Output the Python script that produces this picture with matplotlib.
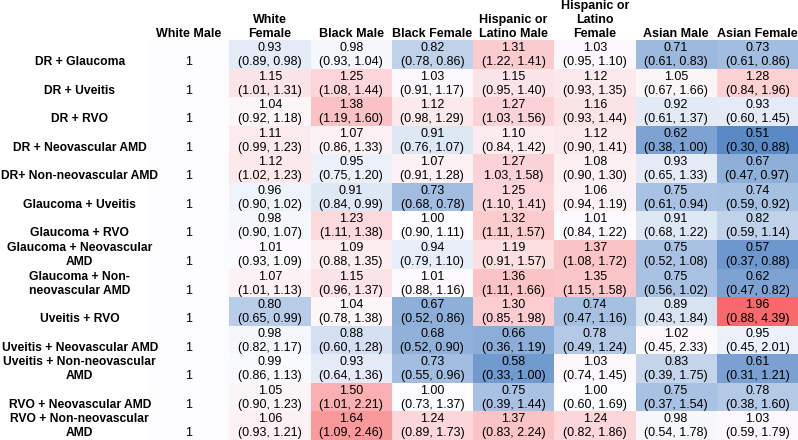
import numpy as np
import matplotlib
matplotlib.use("Agg")
import matplotlib.pyplot as plt
from matplotlib.colors import LinearSegmentedColormap, TwoSlopeNorm

plt.rcParams['font.family'] = ['Liberation Sans', 'DejaVu Sans']

# column headers and row labels
cols = ["White Male", "White\nFemale", "Black Male", "Black Female",
        "Hispanic or\nLatino Male", "Hispanic or\nLatino\nFemale",
        "Asian Male", "Asian Female"]
rows = ["DR + Glaucoma", "DR + Uveitis", "DR + RVO", "DR + Neovascular AMD",
        "DR+ Non-neovascular AMD", "Glaucoma + Uveitis", "Glaucoma + RVO",
        "Glaucoma + Neovascular\nAMD", "Glaucoma + Non-\nneovascular AMD",
        "Uveitis + RVO", "Uveitis + Neovascular AMD",
        "Uveitis + Non-neovascular\nAMD", "RVO + Neovascular AMD",
        "RVO + Non-neovascular\nAMD"]

# odds ratios (White Male = reference, 1)
est = [
    [1, 0.93, 0.98, 0.82, 1.31, 1.03, 0.71, 0.73],
    [1, 1.15, 1.25, 1.03, 1.15, 1.12, 1.05, 1.28],
    [1, 1.04, 1.38, 1.12, 1.27, 1.16, 0.92, 0.93],
    [1, 1.11, 1.07, 0.91, 1.10, 1.12, 0.62, 0.51],
    [1, 1.12, 0.95, 1.07, 1.27, 1.08, 0.93, 0.67],
    [1, 0.96, 0.91, 0.73, 1.25, 1.06, 0.75, 0.74],
    [1, 0.98, 1.23, 1.00, 1.32, 1.01, 0.91, 0.82],
    [1, 1.01, 1.09, 0.94, 1.19, 1.37, 0.75, 0.57],
    [1, 1.07, 1.15, 1.01, 1.36, 1.35, 0.75, 0.62],
    [1, 0.80, 1.04, 0.67, 1.30, 0.74, 0.89, 1.96],
    [1, 0.98, 0.88, 0.68, 0.66, 0.78, 1.02, 0.95],
    [1, 0.99, 0.93, 0.73, 0.58, 1.03, 0.83, 0.61],
    [1, 1.05, 1.50, 1.00, 0.75, 1.00, 0.75, 0.78],
    [1, 1.06, 1.64, 1.24, 1.37, 1.24, 0.98, 1.03],
]

# confidence intervals (as printed, non-reference columns)
ci = [
    ["(0.89, 0.98)", "(0.93, 1.04)", "(0.78, 0.86)", "(1.22, 1.41)", "(0.95, 1.10)", "(0.61, 0.83)", "(0.61, 0.86)"],
    ["(1.01, 1.31)", "(1.08, 1.44)", "(0.91, 1.17)", "(0.95, 1.40)", "(0.93, 1.35)", "(0.67, 1.66)", "(0.84, 1.96)"],
    ["(0.92, 1.18)", "(1.19, 1.60)", "(0.98, 1.29)", "(1.03, 1.56)", "(0.93, 1.44)", "(0.61, 1.37)", "(0.60, 1.45)"],
    ["(0.99, 1.23)", "(0.86, 1.33)", "(0.76, 1.07)", "(0.84, 1.42)", "(0.90, 1.41)", "(0.38, 1.00)", "(0.30, 0.88)"],
    ["(1.02, 1.23)", "(0.75, 1.20)", "(0.91, 1.28)", "1.03, 1.58)", "(0.90, 1.30)", "(0.65, 1.33)", "(0.47, 0.97)"],
    ["(0.90, 1.02)", "(0.84, 0.99)", "(0.68, 0.78)", "(1.10, 1.41)", "(0.94, 1.19)", "(0.61, 0.94)", "(0.59, 0.92)"],
    ["(0.90, 1.07)", "(1.11, 1.38)", "(0.90, 1.11)", "(1.11, 1.57)", "(0.84, 1.22)", "(0.68, 1.22)", "(0.59, 1.14)"],
    ["(0.93, 1.09)", "(0.88, 1.35)", "(0.79, 1.10)", "(0.91, 1.57)", "(1.08, 1.72)", "(0.52, 1.08)", "(0.37, 0.88)"],
    ["(1.01, 1.13)", "(0.96, 1.37)", "(0.88, 1.16)", "(1.11, 1.66)", "(1.15, 1.58)", "(0.56, 1.02)", "(0.47, 0.82)"],
    ["(0.65, 0.99)", "(0.78, 1.38)", "(0.52, 0.86)", "(0.85, 1.98)", "(0.47, 1.16)", "(0.43, 1.84)", "(0.88, 4.39)"],
    ["(0.82, 1.17)", "(0.60, 1.28)", "(0.52, 0.90)", "(0.36, 1.19)", "(0.49, 1.24)", "(0.45, 2.33)", "(0.45, 2.01)"],
    ["(0.86, 1.13)", "(0.64, 1.36)", "(0.55, 0.96)", "(0.33, 1.00)", "(0.74, 1.45)", "(0.39, 1.75)", "(0.31, 1.21)"],
    ["(0.90, 1.23)", "(1.01, 2.21)", "(0.73, 1.37)", "(0.39, 1.44)", "(0.60, 1.69)", "(0.37, 1.54)", "(0.38, 1.60)"],
    ["(0.93, 1.21)", "(1.09, 2.46)", "(0.89, 1.73)", "(0.83, 2.24)", "(0.82, 1.86)", "(0.54, 1.78)", "(0.59, 1.79)"],
]

data = np.array(est, dtype=float)
nr, nc = data.shape

# excel style red-white-blue scale
cmap = LinearSegmentedColormap.from_list("rwb", ["#5A8AC6", "#FCFCFF", "#F8696B"])
norm = TwoSlopeNorm(vmin=data.min(), vcenter=np.median(data), vmax=data.max())

fig = plt.figure(figsize=(7.98, 4.40), dpi=100)
ax = fig.add_axes([148 / 798, 0, 650 / 798, 400 / 440])
ax.pcolormesh(np.arange(nc + 1), np.arange(nr + 1), data, cmap=cmap, norm=norm)
ax.set_xlim(0, nc)
ax.set_ylim(nr, 0)
ax.axis('off')

fs = 9
y1, y2 = 0.28, 0.77  # line positions inside a row

for i in range(nr):
    for j in range(nc):
        if j == 0:
            ax.text(j + 0.5, i + y2, "1", ha='center', va='center', fontsize=fs)
        else:
            ax.text(j + 0.5, i + y1, f"{est[i][j]:.2f}", ha='center', va='center', fontsize=fs)
            ax.text(j + 0.5, i + y2, ci[i][j - 1], ha='center', va='center', fontsize=fs)
    # row label, bottom aligned
    lines = rows[i].split("\n")
    pos = [y2] if len(lines) == 1 else [y1, y2]
    for ln, p in zip(lines, pos):
        ax.text(-0.84, i + p, ln, ha='center', va='center', fontsize=8.7,
                fontweight='bold', clip_on=False)

# headers, bottom aligned
for j, c in enumerate(cols):
    lines = c.split("\n")[::-1]
    for k, ln in enumerate(lines):
        ax.text(j + 0.5, -0.22 - k * 0.49, ln, ha='center', va='center',
                fontsize=fs, fontweight='bold', clip_on=False)

fig.savefig("out.png", dpi=100)
